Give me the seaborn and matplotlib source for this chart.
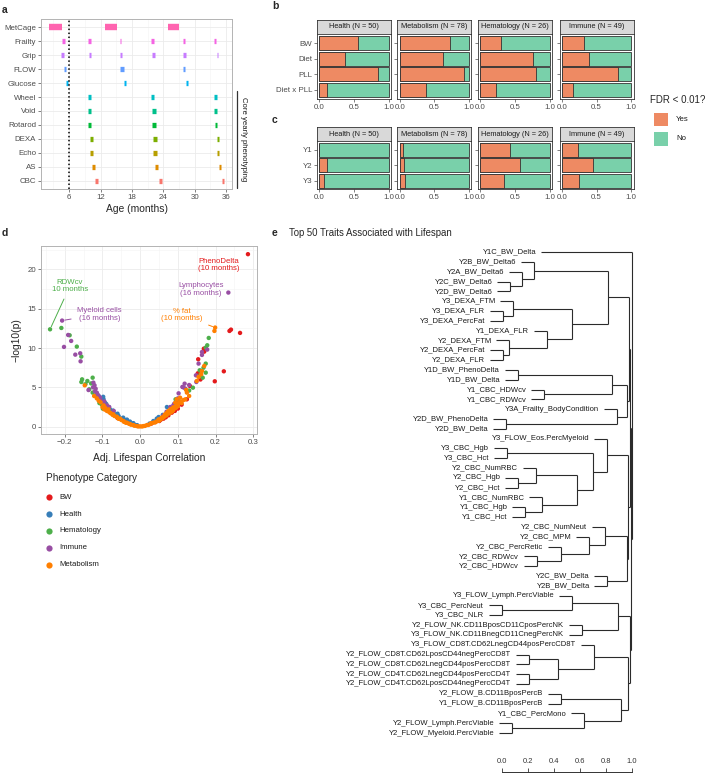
import numpy as np
import pandas as pd
import matplotlib
matplotlib.use("Agg")
import matplotlib.pyplot as plt
import seaborn as sns
from matplotlib.patches import Rectangle

# ==========================================================
# DATA
# ==========================================================
# --- a: assay schedule (months) ---
ASSAYS = ["MetCage", "Frailty", "Grip", "FLOW", "Glucose", "Wheel", "Void",
          "Rotarod", "DEXA", "Echo", "AS", "CBC"]
ASSAY_COLORS = ["#FF64B0", "#F564E3", "#C77CFF", "#619CFF", "#00B4F0", "#00BFC4",
                "#00C08B", "#00BA38", "#7CAE00", "#B79F00", "#DE8C00", "#F8766D"]
WIN_ASSAY = (["MetCage"] * 3 + ["Frailty"] * 6 + ["Grip"] * 6 + ["FLOW"] * 3
             + ["Glucose"] * 3 + ["Wheel"] * 3 + ["Void"] * 3 + ["Rotarod"] * 3
             + ["DEXA"] * 3 + ["Echo"] * 3 + ["AS"] * 3 + ["CBC"] * 3)
WIN_START = [2.2, 12.9, 24.9,
             4.7, 9.6, 15.7, 21.7, 27.7, 33.8,
             4.5, 9.8, 15.7, 21.9, 27.7, 34.2,
             5.0, 15.7, 27.85,
             5.4, 16.5, 28.3,
             9.6, 21.7, 33.8,
             9.6, 21.8, 33.8,
             9.6, 21.8, 33.9,
             10.0, 22.1, 34.3,
             10.0, 22.1, 34.2,
             10.4, 22.4, 34.6,
             11.0, 23.1, 35.25]
WIN_END = [4.7, 15.2, 27.0,
           5.25, 10.2, 16.0, 22.2, 28.2, 34.15,
           5.1, 10.25, 16.1, 22.5, 28.3, 34.5,
           5.4, 16.45, 28.15,
           5.8, 16.9, 28.7,
           10.25, 22.25, 34.2,
           10.2, 22.55, 34.35,
           10.25, 22.6, 34.35,
           10.6, 22.75, 34.6,
           10.6, 22.75, 34.65,
           10.95, 23.0, 35.05,
           11.5, 23.7, 35.6]

# --- b / c: fraction of traits with FDR < 0.01 ---
FACETS = ["Health (N = 50)", "Metabolism (N = 78)", "Hematology (N = 26)", "Immune (N = 49)"]
B_ROWS = ["BW", "Diet", "PLL", "Diet x PLL"]
C_ROWS = ["Y1", "Y2", "Y3"]
B_YES = [[0.556, 0.377, 0.84, 0.116],
         [0.725, 0.628, 0.928, 0.382],
         [0.30, 0.763, 0.807, 0.227],
         [0.324, 0.386, 0.816, 0.159]]
C_YES = [[0.0, 0.116, 0.063],
         [0.039, 0.063, 0.077],
         [0.426, 0.574, 0.344],
         [0.226, 0.452, 0.24]]

# --- d: adjusted lifespan correlation vs -log10(p) ---
CATS = ["BW", "Health", "Hematology", "Immune", "Metabolism"]
CAT_COLORS = ["#E41A1C", "#377EB8", "#4DAF4A", "#984EA3", "#FF7F00"]
BW_R = [0.286, 0.237, 0.241, 0.265, 0.222, 0.198, 0.154, 0.17, 0.169, 0.153, 0.132,
        0.124, 0.04, 0.051, 0.062, 0.075, 0.084, 0.03, 0.055, 0.068, 0.092, 0.1,
        0.11, 0.16, -0.03, -0.06]
BW_P = [21.93, 12.17, 12.34, 11.92, 7.04, 5.77, 8.57, 9.54, 9.92, 6.79, 5.17,
        3.48, 0.59, 0.72, 1.02, 1.44, 1.78, 0.4, 0.9, 1.2, 2.0, 2.3,
        2.8, 6.0, 0.5, 1.1]
HEALTH_R = [-0.106, -0.097, -0.102, -0.093, -0.088, -0.08, -0.075, -0.066, -0.057,
            -0.049, -0.04, -0.031, -0.022, -0.013, 0.035, 0.044, 0.049, 0.071, -0.099,
            -0.103, -0.094, -0.09, -0.083, -0.072, -0.06, -0.045, -0.035, -0.027,
            -0.018, -0.008, -0.11, -0.098, 0.025, 0.06]
HEALTH_P = [3.48, 3.48, 3.05, 2.71, 2.42, 2.2, 1.91, 1.57, 1.36,
            1.02, 0.85, 0.59, 0.38, 0.21, 0.72, 1.02, 1.23, 2.5, 3.2,
            3.3, 3.1, 2.9, 2.5, 2.05, 1.65, 1.15, 0.9, 0.65,
            0.45, 0.2, 3.9, 3.8, 0.4, 1.5]
HEMA_R = [-0.239, -0.209, -0.187, -0.168, -0.156, -0.154, -0.156, -0.14, -0.126,
          -0.135, -0.126, -0.099, -0.102, 0.071, 0.094, 0.14, 0.158, 0.166, 0.174,
          0.174, 0.174, 0.178, 0.182, -0.13, -0.117, -0.108, 0.1, 0.13, 0.16,
          0.168, -0.145]
HEMA_P = [12.38, 12.55, 11.62, 10.18, 8.91, 6.02, 5.68, 5.81, 6.23,
          4.75, 4.33, 2.29, 2.84, 1.57, 3.48, 4.96, 7.17, 6.23, 6.87,
          8.02, 10.05, 10.35, 11.28, 5.5, 4.0, 3.0, 3.3, 4.6, 6.6,
          7.5, 5.4]
IMM_R = [-0.207, -0.191, -0.183, -0.202, -0.172, -0.159, -0.158, -0.124, -0.121,
         -0.137, -0.118, -0.115, -0.11, -0.097, -0.088, -0.106, -0.113,
         0.234, 0.178, 0.164, 0.164, 0.155, 0.149, 0.148, 0.118, 0.112, 0.12,
         0.102, 0.095, 0.062, 0.075, 0.084, 0.088, -0.125, -0.12, -0.105, -0.095,
         -0.082, -0.07, 0.07, 0.08, 0.09, 0.1, 0.13, 0.115]
IMM_P = [13.49, 11.66, 10.9, 10.14, 9.16, 9.33, 8.31, 5.6, 5.26,
         4.66, 4.83, 4.33, 3.9, 3.05, 2.71, 3.69, 4.11,
         17.05, 9.8, 9.5, 9.12, 8.02, 5.68, 6.53, 5.47, 5.05, 4.83,
         4.24, 3.05, 1.44, 1.78, 2.2, 2.71, 5.0, 4.5, 3.4, 3.2,
         2.5, 2.0, 1.9, 2.5, 2.9, 3.6, 5.3, 5.0]
MET_R = [-0.147, -0.122, -0.097, -0.093, -0.088, -0.084, -0.08, -0.071, -0.062,
         -0.053, -0.044, -0.035, -0.027, -0.018, -0.009, 0.0, 0.009, 0.018, 0.027,
         0.035, 0.044, 0.049, 0.053, 0.057, 0.062, 0.066, 0.071, 0.075, 0.08,
         0.084, 0.088, 0.093, 0.088, 0.084, 0.097, 0.093, 0.097, 0.106, 0.115,
         0.12, 0.122, 0.124, 0.15, 0.155, 0.162, 0.164, 0.17, 0.197, 0.199,
         0.03, 0.04, 0.05, 0.055, 0.06, 0.065, 0.07, 0.078, 0.082, 0.086, 0.09,
         0.095, 0.1, 0.1, 0.104, 0.108, 0.11, -0.105, -0.1, -0.095, -0.09, -0.085,
         -0.078, -0.073, -0.068, -0.06, -0.057, -0.05, -0.043, -0.038, -0.03,
         -0.024, -0.015, -0.005, 0.005, 0.013, 0.022, 0.13, -0.115, -0.11]
MET_P = [5.26, 3.9, 2.71, 2.42, 2.0, 2.2, 1.78, 1.57, 1.27,
         1.02, 0.72, 0.51, 0.34, 0.21, 0.08, 0.04, 0.08, 0.21, 0.34,
         0.51, 0.68, 0.93, 0.93, 1.15, 1.27, 1.57, 1.78, 2.0, 2.2,
         2.29, 2.46, 2.54, 2.12, 1.91, 2.71, 3.05, 3.48, 3.69, 3.39,
         3.48, 4.66, 4.33, 5.81, 6.32, 6.66, 7.08, 7.72, 12.17, 12.6,
         0.45, 0.55, 0.75, 0.95, 1.1, 1.3, 1.45, 1.7, 1.9, 2.0, 2.3,
         2.4, 2.6, 2.9, 3.1, 3.2, 3.0, 3.1, 2.5, 2.2, 2.1, 1.95,
         1.7, 1.5, 1.35, 1.15, 1.0, 0.85, 0.62, 0.5, 0.38,
         0.25, 0.12, 0.03, 0.03, 0.1, 0.22, 3.9, 3.6, 3.3]

# --- e: dendrogram of top 50 traits (leaf order top to bottom) ---
LEAVES = ["Y1C_BW_Delta", "Y2B_BW_Delta6", "Y2A_BW_Delta6", "Y2C_BW_Delta6",
          "Y2D_BW_Delta6", "Y3_DEXA_FTM", "Y3_DEXA_FLR", "Y3_DEXA_PercFat",
          "Y1_DEXA_FLR", "Y2_DEXA_FTM", "Y2_DEXA_PercFat", "Y2_DEXA_FLR",
          "Y1D_BW_PhenoDelta", "Y1D_BW_Delta", "Y1_CBC_HDWcv", "Y1_CBC_RDWcv",
          "Y3A_Frailty_BodyCondition", "Y2D_BW_PhenoDelta", "Y2D_BW_Delta",
          "Y3_FLOW_Eos.PercMyeloid", "Y3_CBC_Hgb", "Y3_CBC_Hct", "Y2_CBC_NumRBC",
          "Y2_CBC_Hgb", "Y2_CBC_Hct", "Y1_CBC_NumRBC", "Y1_CBC_Hgb", "Y1_CBC_Hct",
          "Y2_CBC_NumNeut", "Y2_CBC_MPM", "Y2_CBC_PercRetic", "Y2_CBC_RDWcv",
          "Y2_CBC_HDWcv", "Y2C_BW_Delta", "Y2B_BW_Delta", "Y3_FLOW_Lymph.PercViable",
          "Y3_CBC_PercNeut", "Y3_CBC_NLR", "Y2_FLOW_NK.CD11BposCD11CposPercNK",
          "Y3_FLOW_NK.CD11BnegCD11CnegPercNK", "Y3_FLOW_CD8T.CD62LnegCD44posPercCD8T",
          "Y2_FLOW_CD8T.CD62LposCD44negPercCD8T", "Y2_FLOW_CD8T.CD62LnegCD44posPercCD8T",
          "Y2_FLOW_CD4T.CD62LnegCD44posPercCD4T", "Y2_FLOW_CD4T.CD62LposCD44negPercCD4T",
          "Y2_FLOW_B.CD11BposPercB", "Y1_FLOW_B.CD11BposPercB", "Y1_CBC_PercMono",
          "Y2_FLOW_Lymph.PercViable", "Y2_FLOW_Myeloid.PercViable"]
# merges: (left, right, height); ints are leaf indices
BW_TOP = (1, (2, (3, 4, 0.064), 0.154), 0.25)
DEXA = ((5, (6, 7, 0.008), 0.09), (8, (9, (10, 11, 0.008), 0.059), 0.346), 0.54)
GRP_A = (BW_TOP, DEXA, 0.82)
GRP_B = ((12, 13, 0.123), (14, 15, 0.326), 0.846)
GRP_C = (16, (17, 18, 0.033), 0.885)
GRP_D = (19, ((20, 21, 0.038), ((22, (23, 24, 0.128), 0.26),
                                (25, (26, 27, 0.18), 0.31), 0.58), 0.705), 0.81)
GRP_E = ((28, (29, (30, (31, 32, 0.27), 0.456), 0.672), 0.795), (33, 34, 0.813), 0.96)
GRP_F = ((35, (36, 37, 0.0), 0.54), (38, 39, 0.615), 0.897)
GRP_G = (40, ((41, 42, 0.21), (43, 44, 0.21), 0.436), 0.71)
GRP_H = ((45, 46, 0.454), (47, (48, 49, 0.082), 0.633), 0.918)
TREE = (0, (((GRP_A, (GRP_B, GRP_C, 0.967), 0.98), (GRP_D, GRP_E, 0.975), 0.99),
            (GRP_F, (GRP_G, GRP_H, 0.974), 0.99), 0.995), 1.0)
HANG = 0.1
LEAF_START = {0: 0.30}   # outlier leaf drawn from its label

# ==========================================================
# STYLE
# ==========================================================
sns.set_theme(style="white")
plt.rcParams["font.family"] = ["Liberation Sans", "DejaVu Sans"]
TICK_COL = "#4D4D4D"
GRID_COL = "#EBEBEB"
BORDER = "#B3B3B3"
TICK_FS = 5.7

W, H = 708, 775
fig = plt.figure(figsize=(W / 100, H / 100), dpi=100)


def add_ax(x0, y0, x1, y1):
    return fig.add_axes([x0 / W, 1 - y1 / H, (x1 - x0) / W, (y1 - y0) / H])


def light_frame(ax):
    for s in ax.spines.values():
        s.set_visible(True)
        s.set_color(BORDER)
        s.set_linewidth(0.7)
    ax.tick_params(axis="both", labelsize=TICK_FS, colors=TICK_COL, length=2, width=0.5,
                   pad=1.5, left=True, bottom=True)
    for t in ax.get_xticklabels() + ax.get_yticklabels():
        t.set_color(TICK_COL)


# ==========================================================
# a. schedule
# ==========================================================
ax = add_ax(41, 19, 232, 189)
sched = pd.DataFrame({"assay": WIN_ASSAY, "start": WIN_START, "end": WIN_END})
sched["row"] = sched["assay"].map({a: i for i, a in enumerate(ASSAYS)})
for a, c in zip(ASSAYS, ASSAY_COLORS):
    sub = sched[sched["assay"] == a]
    ax.hlines(sub["row"], sub["start"], sub["end"], color=c,
              lw=4.6 if a == "MetCage" else 3.8, capstyle="butt", zorder=3)
ax.axvline(6, color="black", ls=(0, (1, 1.6)), lw=1.1, zorder=4)
ax.set_xlim(0.62, 37.15)
ax.set_ylim(11.6, -0.6)
ax.set_xticks([6, 12, 18, 24, 30, 36])
ax.set_xticklabels(["6", "12", "18", "24", "30", "36"])
ax.set_xticks([3, 9, 15, 21, 27, 33], minor=True)
ax.set_yticks(range(len(ASSAYS)))
ax.set_yticklabels(ASSAYS)
ax.grid(True, which="major", color=GRID_COL, lw=0.6)
ax.grid(True, which="minor", axis="x", color="#F4F4F4", lw=0.4)
ax.set_axisbelow(True)
light_frame(ax)
ax.set_xlabel("Age (months)", fontsize=7.4, labelpad=2)

# ==========================================================
# b / c. stacked proportion bars
# ==========================================================
YES_COL, NO_COL, EDGE = "#EE8A63", "#79D0AA", "#333333"
FACET_X = [317, 397.5, 478, 559.5]
FW = 74


def facet_row(yes_lists, rows, strip_y0, y0, y1, width):
    for k, (x0, title, yes) in enumerate(zip(FACET_X, FACETS, yes_lists)):
        st = add_ax(x0, strip_y0, x0 + FW, y0)
        st.set_facecolor("#D9D9D9")
        st.set_xticks([])
        st.set_yticks([])
        for s in st.spines.values():
            s.set_visible(True)
            s.set_color("#333333")
            s.set_linewidth(0.6)
        st.text(0.5, 0.5, title, ha="center", va="center", fontsize=5.3,
                color="#1A1A1A", transform=st.transAxes)

        ax = add_ax(x0, y0, x0 + FW, y1)
        d = pd.DataFrame({"row": rows, "yes": yes, "all": [1.0] * len(rows)})
        sns.barplot(data=d, x="all", y="row", order=rows, color=NO_COL, saturation=1,
                    width=width, edgecolor=EDGE, linewidth=0.6, ax=ax)
        sns.barplot(data=d, x="yes", y="row", order=rows, color=YES_COL, saturation=1,
                    width=width, edgecolor=EDGE, linewidth=0.6, ax=ax)
        n = len(rows)
        pad = (0.61 if n == 4 else 0.56)
        ax.set_ylim(n - 1 + pad, -pad)
        ax.set_xlim(-0.035, 1.035)
        ax.set_xticks([0, 0.5, 1.0])
        ax.set_xticklabels(["0.0", "0.5", "1.0"])
        ax.set_xlabel("")
        ax.set_ylabel("")
        for s in ax.spines.values():
            s.set_visible(True)
            s.set_color("#333333")
            s.set_linewidth(0.6)
        ax.tick_params(axis="both", labelsize=TICK_FS, colors=TICK_COL, length=2,
                       width=0.5, pad=1.5, left=True, bottom=True)
        for t in ax.get_xticklabels() + ax.get_yticklabels():
            t.set_color(TICK_COL)
        if k > 0:
            ax.set_yticklabels([])


facet_row(B_YES, B_ROWS, 20, 34, 99.3, 0.91)
facet_row(C_YES, C_ROWS, 127, 141, 189.3, 0.9)

# ==========================================================
# d. volcano-style scatter
# ==========================================================
ax = add_ax(41, 246, 257, 434)
parts = []
for cat, r, p in zip(CATS, [BW_R, HEALTH_R, HEMA_R, IMM_R, MET_R],
                     [BW_P, HEALTH_P, HEMA_P, IMM_P, MET_P]):
    parts.append(pd.DataFrame({"r": r, "p": p, "cat": cat}))
vol = pd.concat(parts, ignore_index=True)
sns.scatterplot(data=vol, x="r", y="p", hue="cat", hue_order=CATS,
                palette=CAT_COLORS, s=10, linewidth=0, legend=False, ax=ax, zorder=3)
ax.set_xlim(-0.263, 0.31)
ax.set_ylim(-0.93, 22.97)
ax.set_xticks([-0.2, -0.1, 0.0, 0.1, 0.2, 0.3])
ax.set_xticklabels(["\u22120.2", "\u22120.1", "0.0", "0.1", "0.2", "0.3"])
ax.set_yticks([0, 5, 10, 15, 20])
ax.set_xticks(np.arange(-0.25, 0.31, 0.1), minor=True)
ax.set_yticks([2.5, 7.5, 12.5, 17.5, 22.5], minor=True)
ax.grid(True, which="major", color=GRID_COL, lw=0.6)
ax.grid(True, which="minor", color="#F4F4F4", lw=0.4)
ax.set_axisbelow(True)
light_frame(ax)
ax.set_xlabel("Adj. Lifespan Correlation", fontsize=7.4, labelpad=5)
ax.set_ylabel("\u2212log10(p)", fontsize=7.4, labelpad=4)

ann_kw = dict(fontsize=5.6, ha="center", va="center", linespacing=1.15)
ax.text(0.2095, 20.57, "PhenoDelta\n(10 months)", color=CAT_COLORS[0], **ann_kw)
ax.text(0.161, 17.48, "Lymphocytes\n(16 months)", color=CAT_COLORS[3], **ann_kw)
ax.annotate("RDWcv\n10 months", xy=(-0.239, 12.38), xytext=(-0.186, 17.9),
            color=CAT_COLORS[2], arrowprops=dict(arrowstyle="-", color=CAT_COLORS[2],
                                                  lw=0.7, shrinkB=2), **ann_kw)
ax.annotate("Myeloid cells\n(16 months)", xy=(-0.207, 13.49), xytext=(-0.108, 14.3),
            color=CAT_COLORS[3], arrowprops=dict(arrowstyle="-", color=CAT_COLORS[3],
                                                  lw=0.7, shrinkB=2), **ann_kw)
ax.annotate("% fat\n(10 months)", xy=(0.199, 12.6), xytext=(0.111, 14.2),
            color=CAT_COLORS[4], arrowprops=dict(arrowstyle="-", color=CAT_COLORS[4],
                                                  lw=0.7, shrinkB=2), **ann_kw)

# ==========================================================
# e. dendrogram
# ==========================================================
dax = add_ax(300, 245, 700, 745)
dax.set_xlim((300 - 501.7) / 130, (700 - 501.7) / 130)
dax.set_ylim(0.2766 + 500 / 9.815, 0.2766)
dax.axis("off")
LINE = dict(color="#2B2B2B", lw=0.8, solid_capstyle="butt")


def draw_node(node):
    if isinstance(node, int):
        return None, node + 1.0
    left, right, h = node
    pos = []
    for child in (left, right):
        ch, cy = draw_node(child)
        if ch is None:
            ch = LEAF_START.get(child, h - HANG)
            dax.text(ch - 0.035, cy, LEAVES[child], ha="right", va="center",
                     fontsize=5.5, color="#1A1A1A")
        dax.plot([ch, h], [cy, cy], **LINE)
        pos.append(cy)
    dax.plot([h, h], [pos[0], pos[1]], **LINE)
    return h, (pos[0] + pos[1]) / 2


draw_node(TREE)

sax = add_ax(501.7, 768, 631.7, 772)
sax.set_xlim(0, 1)
sax.set_yticks([])
sax.set_xticks([0, 0.2, 0.4, 0.6, 0.8, 1.0])
sax.set_xticklabels(["0.0", "0.2", "0.4", "0.6", "0.8", "1.0"])
for side in ["top", "left", "right"]:
    sax.spines[side].set_visible(False)
sax.spines["bottom"].set_color("#333333")
sax.spines["bottom"].set_linewidth(0.7)
sax.set_facecolor("none")
sax.tick_params(axis="x", direction="in", length=3, width=0.6, bottom=True, top=False,
                labelbottom=False, labeltop=True, labelsize=5.4, pad=2,
                colors="#333333")

# ==========================================================
# overlay: panel letters, legends, annotations
# ==========================================================
pax = fig.add_axes([0, 0, 1, 1])
pax.set_xlim(0, W)
pax.set_ylim(H, 0)
pax.axis("off")
pax.patch.set_alpha(0)

for letter, (x, y) in {"a": (2, 10), "b": (272, 6), "c": (272, 120),
                       "d": (2, 233), "e": (272, 233)}.items():
    pax.text(x, y, letter, fontsize=7.5, fontweight="bold", va="center", ha="left")

pax.plot([237, 237], [91, 188], color="#333333", lw=0.9)
pax.text(244, 139, "Core yearly phenotyping", rotation=270, fontsize=5.6,
         ha="center", va="center", color="#1A1A1A")

# FDR legend
pax.text(650, 100, "FDR < 0.01?", fontsize=7.0, ha="left", va="center")
for (lab, col, y) in [("Yes", YES_COL, 112.5), ("No", NO_COL, 131.8)]:
    pax.add_patch(Rectangle((654.3, y), 13.4, 13.8, facecolor=col, edgecolor="none"))
    pax.text(676, y + 7, lab, fontsize=5.6, ha="left", va="center", color="#1A1A1A")

# Phenotype legend
pax.text(46.5, 478, "Phenotype Category", fontsize=7.2, ha="left", va="center")
for i, (cat, col) in enumerate(zip(CATS, CAT_COLORS)):
    y = 497.3 + i * 16.8
    pax.scatter([49], [y], s=20, color=col, linewidth=0)
    pax.text(59.3, y, cat, fontsize=5.6, ha="left", va="center", color="#1A1A1A")

pax.text(289, 233, "Top 50 Traits Associated with Lifespan", fontsize=6.9,
         ha="left", va="center")

fig.savefig("out.png", dpi=100)
